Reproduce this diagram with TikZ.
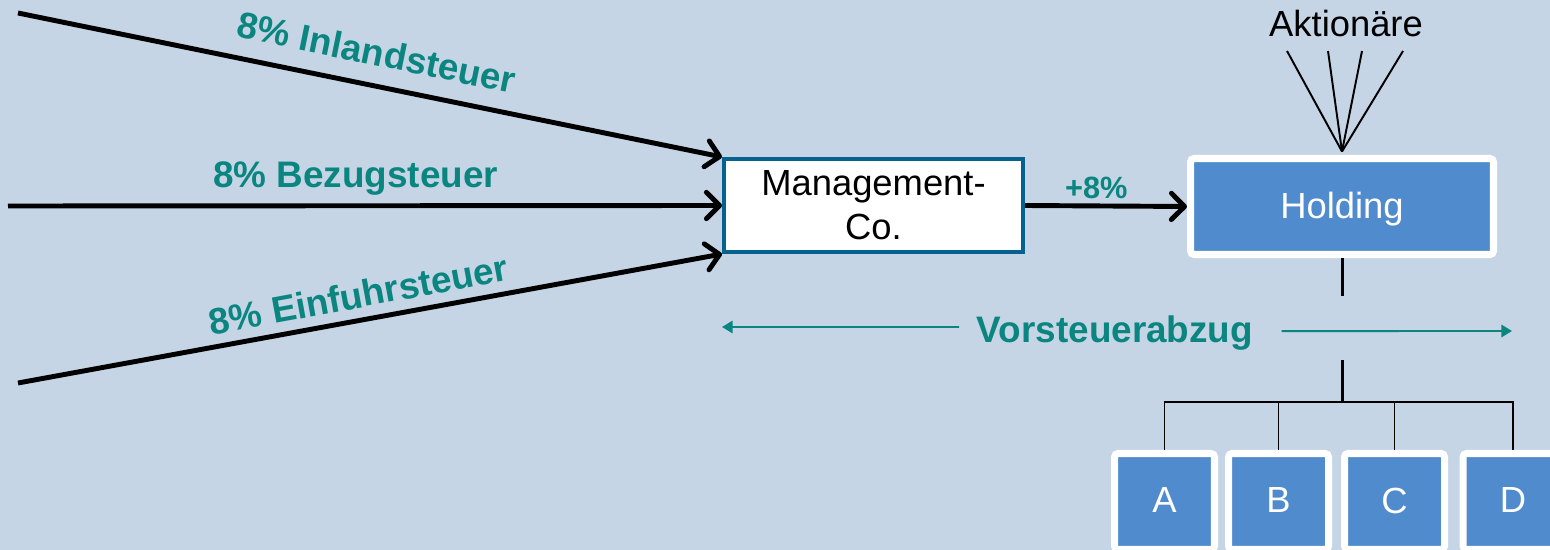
\documentclass[tikz,border=0pt]{standalone}
\usepackage{fontspec}
\setmainfont{Liberation Sans}
\usetikzlibrary{arrows.meta, positioning}
\definecolor{PaleBg}{HTML}{C5D5E6}
\definecolor{HoldBlue}{HTML}{508BCD}
\definecolor{CoBorder}{HTML}{05628F}
\definecolor{TaxTeal}{HTML}{0A857F}

\tikzset{
  bigtext/.style={font=\fontsize{20.7}{25}\selectfont},
  taxlabel/.style={font=\bfseries\fontsize{21}{24}\selectfont, text=TaxTeal, inner sep=0pt},
  flow/.style={line width=2.8pt, -{Straight Barb[length=7.5pt,width=15pt,round]}},
  bluebox/.style={bigtext, draw=white, line width=4pt, fill=HoldBlue, text=white, rounded corners=2pt, text depth=0.25ex},
  thinline/.style={line width=1.1pt},
  stemline/.style={line width=1.7pt},
  tealarrow/.style={TaxTeal, line width=1.1pt, -{Triangle[length=6pt,width=7pt]}}
}

\begin{document}
\begin{tikzpicture}[x=0.02cm, y=-0.02cm]
  % background
  \fill[PaleBg] (0,0) rectangle (1550,550);
  \useasboundingbox (0,0) rectangle (1550,550);
  \clip (0,0) rectangle (1550,550);

  % boxes
  \node[bigtext, draw=CoBorder, line width=2.3pt, fill=white, minimum width=5.98cm, minimum height=1.86cm, align=center, inner sep=0pt] (mgmt) at (873.5,205.5) {Management-\\Co.};
  \node[bluebox, minimum width=6.06cm, minimum height=1.92cm] (holding) at (1342,206.5) {Holding};
  \foreach \name/\x in {A/1164.5, B/1278.5, C/1394.5, D/1513}
    \node[bluebox, minimum width=2cm, minimum height=1.92cm] (\name) at (\x,501.5) {\name};

  % shareholders
  \node[bigtext] (akt) at (1346,24) {Aktionäre};
  \foreach \x [count=\i] in {1287,1328,1362,1403} {
    \coordinate (sh\i) at (\x,51);
    \draw[thinline] (sh\i) -- ([yshift=2pt]holding.north);
  }

  % incoming taxes
  \coordinate (inl) at (18,13);
  \coordinate (bez) at (8,206);
  \coordinate (einf) at (18,383);
  \draw[flow] (inl) -- (mgmt.north west)
    node[taxlabel, midway, sloped, anchor=base, yshift=11.5pt] {8\% Inlandsteuer};
  \draw[flow] (bez) -- (mgmt.west)
    node[taxlabel, pos=0.487, anchor=base, yshift=10.5pt] {8\% Bezugsteuer};
  \draw[flow] (einf) -- (mgmt.south west)
    node[taxlabel, pos=0.49, sloped, anchor=base, yshift=7pt] {8\% Einfuhrsteuer};
  \draw[flow] (mgmt.east) -- (holding.west)
    node[taxlabel, font=\bfseries\fontsize{17.5}{20}\selectfont, pos=0.44, anchor=base, yshift=4.5pt] {+8\%};

  % Vorsteuerabzug
  \node[taxlabel] (vsa) at (1115,333) {Vorsteuerabzug};
  \coordinate (vleft) at (722,327);
  \coordinate (vright) at (1512,331);
  \draw[tealarrow] ([xshift=-10pt,yshift=3.4pt]vsa.west) -- (vleft);
  \draw[tealarrow] ([xshift=16pt,yshift=1.1pt]vsa.east) -- (vright);

  % tree below holding
  \draw[stemline] (holding.south) -- ++(0,38);
  \coordinate (hub) at (1342,402);
  \draw[stemline] (hub) -- ++(0,-42);
  \foreach \name in {A,B,C,D}
    \draw[thinline] (hub) -| (\name.north);
\end{tikzpicture}
\end{document}
